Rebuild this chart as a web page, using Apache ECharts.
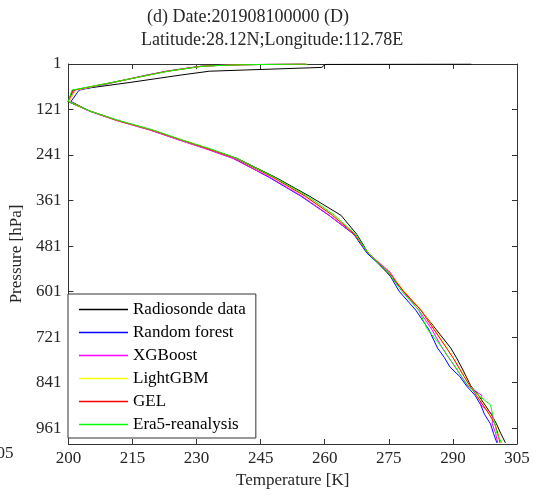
<!DOCTYPE html>
<html>
<head>
<meta charset="utf-8">
<script src="https://cdn.jsdelivr.net/npm/echarts@6/dist/echarts.min.js"></script>
<style>html,body{margin:0;padding:0;background:#fff;}#chart{width:539px;height:495px;}</style>
</head>
<body>
<div id="chart"></div>
<script>
// Pressure levels (hPa)
const pressureLevels = [1, 2, 3, 5, 7, 10, 20, 30, 50, 70, 100, 125, 150, 175, 200, 225, 250, 300, 350, 400, 450, 500, 550, 600, 650, 700, 750, 775, 800, 825, 850, 875, 900, 925, 950, 975, 1000];

// Temperatures (K) at each level
const radiosonde = [294.3, 260.5, 260, 259.8, 259.6, 259.3, 233, 226.4, 214.2, 201, 199.9, 205, 211.5, 219.5, 226, 233, 239.5, 248.5, 256.5, 263.8, 267.5, 270.2, 274.5, 278.5, 282.5, 286, 289.5, 290.8, 292, 293.1, 294.2, 296, 297.5, 299, 300.2, 301.2, 302.3];
const randomForest = [255.5, 246, 240, 234.5, 231, 229, 223, 218.5, 210.5, 202.5, 200.6, 205, 211.5, 219.2, 225.7, 232.5, 238.7, 247, 254.5, 261, 266.8, 269.9, 274.8, 277.4, 281.3, 284.3, 286.4, 288, 289.3, 291.6, 293.2, 295.2, 296.5, 297.4, 298.8, 299.5, 300.3];
const xgboost = [255, 247, 240.5, 235, 231, 229.3, 223.2, 218.8, 210.2, 201.5, 200.2, 204.8, 211.2, 219, 225.5, 232.2, 238.5, 247.2, 254.7, 261, 266.9, 270.2, 275.3, 278.3, 282, 285, 287.5, 289, 290.5, 292, 293.5, 296.8, 296.5, 299.3, 299.2, 300, 300.5];
const lightgbm = [255.8, 247.5, 241, 234.8, 231.3, 229.4, 223.3, 218.9, 210.3, 201.8, 200.1, 205, 211.5, 219.5, 226, 232.8, 239.2, 247.9, 255.5, 261.8, 267, 270.2, 275, 278.6, 282.6, 285.7, 288.6, 290, 291.4, 292.7, 294, 295.7, 297.2, 298.6, 299.9, 300.6, 301.2];
const gel = [255.6, 247, 240.8, 234.7, 231.2, 229.2, 223.1, 218.7, 210.1, 201.2, 199.9, 205, 211.5, 219.5, 226, 232.8, 239.2, 247.9, 255.5, 261.8, 267, 270.2, 275, 278.4, 282.5, 285.5, 288.5, 290, 291.3, 292.6, 294, 295.5, 297, 298.5, 299.8, 300.5, 301];
const era5 = [256, 248, 241, 235, 231.5, 229.5, 223.4, 219, 210, 200.8, 200, 205, 211.8, 219.8, 226.3, 233.3, 239.5, 248.2, 256, 262.3, 267.2, 270.2, 274.8, 278, 282, 284, 287.6, 289, 290.6, 292, 293.6, 296, 298.8, 299.3, 299.8, 300.3, 301.4];

const seriesNames = ['Radiosonde data', 'Random forest', 'XGBoost', 'LightGBM', 'GEL', 'Era5-reanalysis'];
const seriesValues = [radiosonde, randomForest, xgboost, lightgbm, gel, era5];
const seriesColors = ['#000000', '#0000ff', '#ff00ff', '#ffff00', '#ff0000', '#00ff00'];

const xTicks = [200, 215, 230, 245, 260, 275, 290, 305];
const yTicks = [1, 121, 241, 361, 481, 601, 721, 841, 961];

const FONT = 'Liberation Serif';
const TXT = '#262626';
const AX = '#333333';

const chart = echarts.init(document.getElementById('chart'), null, {renderer: 'canvas'});

const series = seriesNames.map((name, i) => ({
  name: name,
  type: 'line',
  xAxisIndex: 0,
  yAxisIndex: 0,
  symbol: 'none',
  smooth: false,
  animation: false,
  lineStyle: {color: seriesColors[i], width: 1},
  itemStyle: {color: seriesColors[i]},
  data: pressureLevels.map((p, k) => [seriesValues[i][k], p])
}));

const xMin = xTicks[0], xMax = xTicks[xTicks.length - 1], xInt = xTicks[1] - xTicks[0];
const yMin = yTicks[0], yInt = yTicks[1] - yTicks[0], yMax = 1003;

function xAxisCfg(pos, showLabel) {
  return {
    type: 'value', position: pos, min: xMin, max: xMax, interval: xInt,
    axisLine: {show: true, onZero: false, lineStyle: {color: AX, width: 1}},
    axisTick: {show: true, inside: true, length: 5, lineStyle: {color: AX}},
    axisLabel: {show: showLabel, margin: 6, color: TXT, fontSize: 17, fontFamily: FONT},
    splitLine: {show: false}
  };
}
function yAxisCfg(pos, showLabel) {
  return {
    type: 'value', position: pos, inverse: true, min: yMin, max: yMax, interval: yInt,
    axisLine: {show: true, onZero: false, lineStyle: {color: AX, width: 1}},
    axisTick: {show: true, inside: true, length: 5, lineStyle: {color: AX}},
    axisLabel: {show: showLabel, margin: 7, color: TXT, fontSize: 17, fontFamily: FONT,
      formatter: v => (yTicks.indexOf(v) >= 0 ? String(v) : '')},
    splitLine: {show: false}
  };
}

const xa0 = xAxisCfg('bottom', true);
xa0.name = 'Temperature [K]';
xa0.nameLocation = 'middle';
xa0.nameGap = 26;
xa0.nameTextStyle = {color: TXT, fontSize: 17, fontFamily: FONT};
const ya0 = yAxisCfg('left', true);
ya0.name = 'Pressure [hPa]';
ya0.nameLocation = 'middle';
ya0.nameGap = 30;
ya0.nameTextStyle = {color: TXT, fontSize: 17, fontFamily: FONT};

chart.setOption({
  animation: false,
  backgroundColor: '#ffffff',
  title: [
    {text: '(d) Date:201908100000 (D)', left: 147, top: 8, padding: 0,
     textStyle: {color: TXT, fontSize: 18, fontWeight: 'normal', fontFamily: FONT}},
    {text: 'Latitude:28.12N;Longitude:112.78E', left: 141, top: 31, padding: 0,
     textStyle: {color: TXT, fontSize: 18, fontWeight: 'normal', fontFamily: FONT}}
  ],
  grid: {left: 60, right: 22, top: 64, bottom: 51, containLabel: false},
  xAxis: [xa0, xAxisCfg('top', false)],
  yAxis: [ya0, yAxisCfg('right', false)],
  legend: {
    data: seriesNames,
    orient: 'vertical',
    left: 68, top: 294,
    padding: [7, 10, 5, 11],
    icon: 'rect',
    itemWidth: 49, itemHeight: 1.5, itemGap: 6,
    backgroundColor: '#ffffff',
    borderColor: AX, borderWidth: 1,
    textStyle: {color: '#000', fontSize: 17, lineHeight: 17, fontFamily: FONT},
    selectedMode: false
  },
  graphic: [
    {type: 'text', left: -12, top: 445, style: {text: '305', fill: TXT, font: '17px "Liberation Serif"'}}
  ],
  series: series
});
</script>
</body>
</html>
